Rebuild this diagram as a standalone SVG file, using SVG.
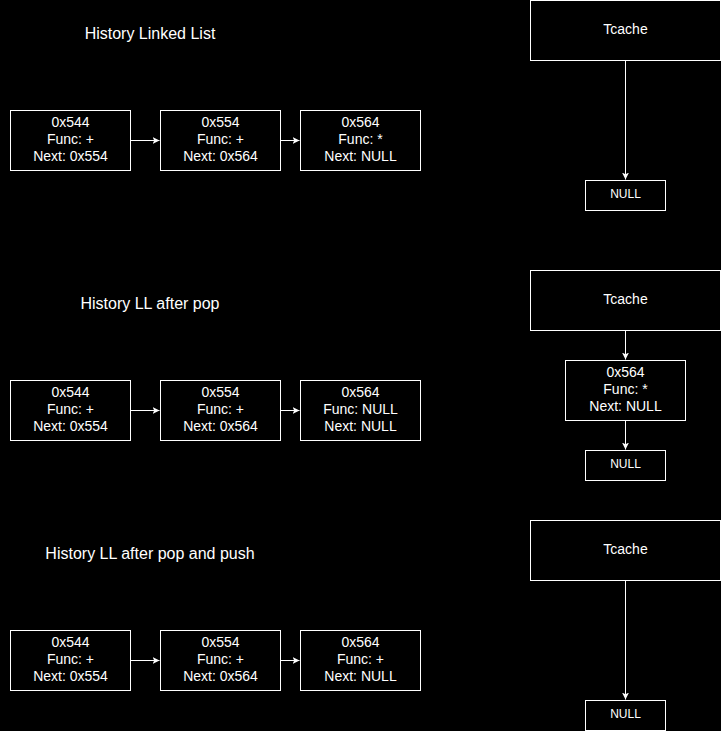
<svg xmlns="http://www.w3.org/2000/svg" width="721" height="731" viewBox="0 0 721 731">
<style>
.bx{fill:#000;stroke:#fff;stroke-width:1}
.t{fill:#fff;font-family:"Liberation Sans",Arial,sans-serif;font-size:14px;text-anchor:middle}
.n{font-size:12px}
.h{fill:#fff;font-family:"Liberation Sans",Arial,sans-serif;font-size:16px;text-anchor:middle}
.e{stroke:#fff;stroke-width:1;fill:none}
</style>
<defs>
<marker id="a" viewBox="0 0 10 10" refX="10" refY="5" markerWidth="7" markerHeight="7" markerUnits="userSpaceOnUse" orient="auto">
<path d="M0,0 L10,5 L0,10 L2.5,5 Z" fill="#fff"/>
</marker>
</defs>
<rect width="721" height="731" fill="#000"/>
<g id="titles">
<text class="h" x="150" y="39">History Linked List</text>
<text class="h" x="150" y="309">History LL after pop</text>
<text class="h" x="150" y="559">History LL after pop and push</text>
</g>
<g id="connectors">
<path class="e" d="M130.5,140.5 H159.5" marker-end="url(#a)"/>
<path class="e" d="M280.5,140.5 H299.5" marker-end="url(#a)"/>
<path class="e" d="M625.5,60.5 V179.5" marker-end="url(#a)"/>
<path class="e" d="M130.5,410.5 H159.5" marker-end="url(#a)"/>
<path class="e" d="M280.5,410.5 H299.5" marker-end="url(#a)"/>
<path class="e" d="M625.5,330.5 V359.5" marker-end="url(#a)"/>
<path class="e" d="M625.5,420.5 V449.5" marker-end="url(#a)"/>
<path class="e" d="M130.5,660.5 H159.5" marker-end="url(#a)"/>
<path class="e" d="M280.5,660.5 H299.5" marker-end="url(#a)"/>
<path class="e" d="M625.5,580.5 V699.5" marker-end="url(#a)"/>
</g>
<g id="n1a"><rect class="bx" x="10.5" y="110.5" width="120" height="60"/><text class="t" x="70.5" y="127">0x544</text><text class="t" x="70.5" y="144">Func: +</text><text class="t" x="70.5" y="161">Next: 0x554</text></g>
<g id="n1b"><rect class="bx" x="160.5" y="110.5" width="120" height="60"/><text class="t" x="220.5" y="127">0x554</text><text class="t" x="220.5" y="144">Func: +</text><text class="t" x="220.5" y="161">Next: 0x564</text></g>
<g id="n1c"><rect class="bx" x="300.5" y="110.5" width="120" height="60"/><text class="t" x="360.5" y="127">0x564</text><text class="t" x="360.5" y="144">Func: *</text><text class="t" x="360.5" y="161">Next: NULL</text></g>
<g id="tc1"><rect class="bx" x="530.5" y="0.5" width="190" height="60"/><text class="t" x="625.5" y="34">Tcache</text></g>
<g id="null1"><rect class="bx" x="585.5" y="180.5" width="80" height="30"/><text class="t n" x="625.5" y="198">NULL</text></g>

<g id="n2a"><rect class="bx" x="10.5" y="380.5" width="120" height="60"/><text class="t" x="70.5" y="397">0x544</text><text class="t" x="70.5" y="414">Func: +</text><text class="t" x="70.5" y="431">Next: 0x554</text></g>
<g id="n2b"><rect class="bx" x="160.5" y="380.5" width="120" height="60"/><text class="t" x="220.5" y="397">0x554</text><text class="t" x="220.5" y="414">Func: +</text><text class="t" x="220.5" y="431">Next: 0x564</text></g>
<g id="n2c"><rect class="bx" x="300.5" y="380.5" width="120" height="60"/><text class="t" x="360.5" y="397">0x564</text><text class="t" x="360.5" y="414">Func: NULL</text><text class="t" x="360.5" y="431">Next: NULL</text></g>
<g id="tc2"><rect class="bx" x="530.5" y="270.5" width="190" height="60"/><text class="t" x="625.5" y="304">Tcache</text></g>
<g id="tcn2"><rect class="bx" x="565.5" y="360.5" width="120" height="60"/><text class="t" x="625.5" y="377">0x564</text><text class="t" x="625.5" y="394">Func: *</text><text class="t" x="625.5" y="411">Next: NULL</text></g>
<g id="null2"><rect class="bx" x="585.5" y="450.5" width="80" height="30"/><text class="t n" x="625.5" y="468">NULL</text></g>

<g id="n3a"><rect class="bx" x="10.5" y="630.5" width="120" height="60"/><text class="t" x="70.5" y="647">0x544</text><text class="t" x="70.5" y="664">Func: +</text><text class="t" x="70.5" y="681">Next: 0x554</text></g>
<g id="n3b"><rect class="bx" x="160.5" y="630.5" width="120" height="60"/><text class="t" x="220.5" y="647">0x554</text><text class="t" x="220.5" y="664">Func: +</text><text class="t" x="220.5" y="681">Next: 0x564</text></g>
<g id="n3c"><rect class="bx" x="300.5" y="630.5" width="120" height="60"/><text class="t" x="360.5" y="647">0x564</text><text class="t" x="360.5" y="664">Func: +</text><text class="t" x="360.5" y="681">Next: NULL</text></g>
<g id="tc3"><rect class="bx" x="530.5" y="520.5" width="190" height="60"/><text class="t" x="625.5" y="554">Tcache</text></g>
<g id="null3"><rect class="bx" x="585.5" y="700.5" width="80" height="30"/><text class="t n" x="625.5" y="718">NULL</text></g>
</svg>
